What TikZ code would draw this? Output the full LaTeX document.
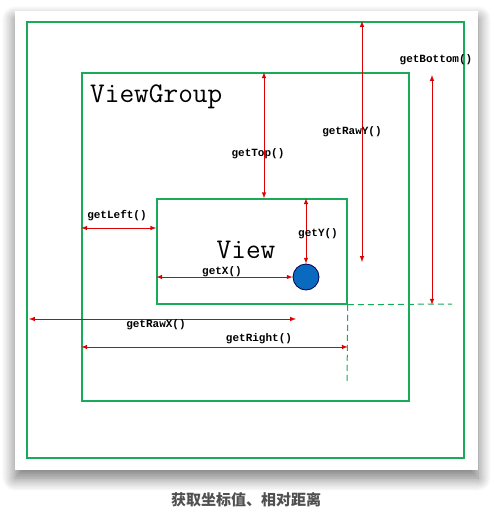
\documentclass[tikz,border=0pt]{standalone}
\usepackage{fontspec}
\newfontfamily\lblfont{Liberation Mono}
\newfontfamily\cjk{Noto Sans CJK SC}
\usetikzlibrary{shadows.blur}
\definecolor{boxgreen}{RGB}{26,171,90}
\definecolor{dimred}{RGB}{220,0,0}
\definecolor{touchblue}{RGB}{10,106,191}
\definecolor{capgray}{RGB}{80,80,80}

\begin{document}
\begin{tikzpicture}[x=1pt, y=-1pt]

\tikzstyle{box}=[rectangle, draw=boxgreen, inner sep=0pt]
\tikzstyle{dim}=[latex-latex, draw=dimred, fill=dimred, line width=1pt]
\tikzstyle{lbl}=[font=\lblfont\bfseries\fontsize{11}{11}\selectfont, inner sep=0pt]
\tikzstyle{title}=[font=\ttfamily\fontsize{28.5}{28.5}\selectfont, inner sep=0pt]
\tikzstyle{guide}=[draw=boxgreen, line width=1pt, dash pattern=on 6pt off 4pt]

\useasboundingbox (0,0) rectangle (493,514);

% card with shadow
\fill[white, blur shadow={shadow xshift=0pt, shadow yshift=-8pt, shadow blur radius=13pt, shadow opacity=55, shadow blur steps=12}]
  (15,11) rectangle (478,470);

\node[box, line width=2pt, minimum width=437, minimum height=436] (outer) at (245.5,240) {};
\node[box, line width=1.5pt, minimum width=327, minimum height=328] (group) at (245.5,237) {};
\node[box, line width=1.5pt, minimum width=190, minimum height=105] (view) at (252,251.5) {};
\node[circle, draw=black!70!blue, fill=touchblue, line width=0.8pt, minimum size=26, inner sep=0pt] (touch) at (306,277) {};

\node[title, anchor=west] (grouptxt) at (90,97) {ViewGroup};
\node[title] (viewtxt) at (246,250) {View};

% helper points
\coordinate (topx) at (264,0);
\coordinate (rawyx) at (362,0);
\coordinate (rawyend) at (362,262);
\coordinate (botx) at (432,0);
\coordinate (bottop) at (432,75);
\coordinate (lefty) at (0,228);
\coordinate (rawxy) at (29,319);
\coordinate (rawxend) at (296,319);
\coordinate (righty) at (0,347);
\coordinate (vdash) at (347,383);
\coordinate (hdash) at (452,304);

% distances
\draw[dim] (group.north -| topx) -- (view.north -| topx);
\draw[dim] (outer.north -| rawyx) -- (rawyend);
\draw[dim] (bottop) -- (view.south -| botx);
\draw[dim] (group.west |- lefty) -- (view.west |- lefty);
\draw[dim] (view.north -| touch) -- (touch.north);
\draw[dim] (view.west |- touch) -- (touch.west);
\draw[dim] (rawxy) -- (rawxend);
\draw[dim] (group.west |- righty) -- (view.east |- righty);

% guides
\draw[guide] (view.south east) -- (vdash);
\draw[guide] (view.south east) -- (hdash);

\node[lbl] (lleft) at (117,216) {getLeft()};
\node[lbl] (ltop) at (258,154) {getTop()};
\node[lbl] (lrawy) at (352,132) {getRawY()};
\node[lbl] (lbottom) at (436,60) {getBottom()};
\node[lbl] (ly) at (318,234) {getY()};
\node[lbl] (lx) at (222,272) {getX()};
\node[lbl] (lrawx) at (156,325) {getRawX()};
\node[lbl] (lright) at (259,339) {getRight()};

\node[font=\cjk\bfseries\fontsize{15}{15}\selectfont, text=capgray] (caption) at (246,500) {获取坐标值、相对距离};

\end{tikzpicture}
\end{document}
